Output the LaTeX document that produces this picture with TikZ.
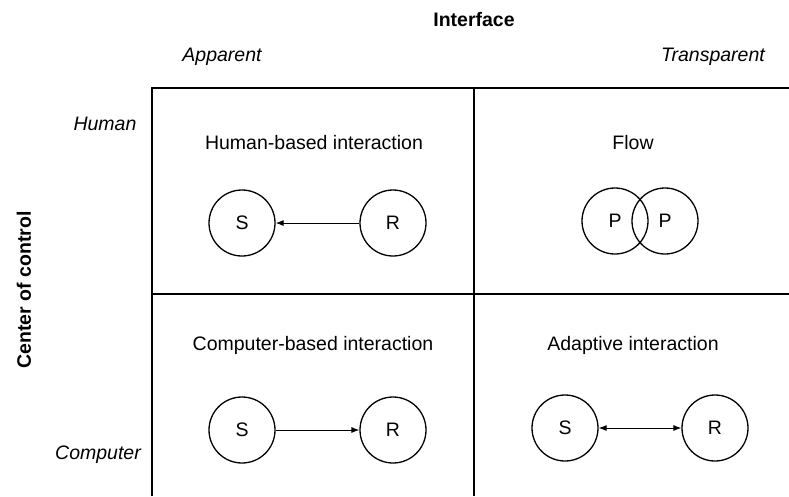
\documentclass[tikz,border=0pt]{standalone}
\usepackage{fontspec}
\setmainfont{Liberation Sans}
\usetikzlibrary{arrows.meta}
\begin{document}
\begin{tikzpicture}[x=1pt,y=-1pt,
  every node/.style={font=\fontsize{19.5}{23}\selectfont, inner sep=0pt},
  axislabel/.style={font=\fontsize{19.5}{23}\selectfont\bfseries},
  endlabel/.style={font=\fontsize{19.5}{23}\selectfont\itshape},
  title/.style={},
  agent/.style={draw, circle, minimum size=66pt, line width=1.3pt},
  grid/.style={line width=1.2pt},
  link/.style={line width=0.9pt, -{Latex[length=8pt,width=6pt]}},
  dlink/.style={line width=0.9pt, {Latex[length=8pt,width=6pt]}-{Latex[length=8pt,width=6pt]}}]
\useasboundingbox (0,0) rectangle (789,496);
\fill[white] (0,0) rectangle (789,496);

% axis labels
\node[axislabel] (iface) at (474,20) {Interface};
\node[endlabel] (app) at (222,57) {Apparent};
\node[endlabel] (tra) at (713,57) {Transparent};
\node[endlabel] (hum) at (105,124) {Human};
\node[endlabel] (comp) at (98,455) {Computer};
\node[axislabel, rotate=90] (coc) at (24,290) {Center of control};

% grid
\coordinate (tl) at (152,88);
\coordinate (tr) at (789,88);
\coordinate (ml) at (152,294);
\coordinate (mr) at (789,294);
\coordinate (bl) at (152,496);
\coordinate (tm) at (474,88);
\coordinate (bm) at (474,496);
\draw[grid] (bl) -- (tl) -- (tr);
\draw[grid] (ml) -- (mr);
\draw[grid] (tm) -- (bm);

% quadrant titles
\node[title] (t1) at (314,143) {Human-based interaction};
\node[title] (t2) at (633,143) {Flow};
\node[title] (t3) at (313,345) {Computer-based interaction};
\node[title] (t4) at (633,345) {Adaptive interaction};

% human-based interaction
\node[agent] (s1) at (242,223) {S};
\node[agent] (r1) at (393,223) {R};
\draw[link] (r1) -- (s1);

% flow
\node[agent] (p1) at (615,221) {P};
\node[agent] (p2) at (665,221) {P};

% computer-based interaction
\node[agent] (s2) at (242,430) {S};
\node[agent] (r2) at (393,430) {R};
\draw[link] (s2) -- (r2);

% adaptive interaction
\node[agent] (s3) at (565,428) {S};
\node[agent] (r3) at (715,428) {R};
\draw[dlink] (s3) -- (r3);
\end{tikzpicture}
\end{document}
